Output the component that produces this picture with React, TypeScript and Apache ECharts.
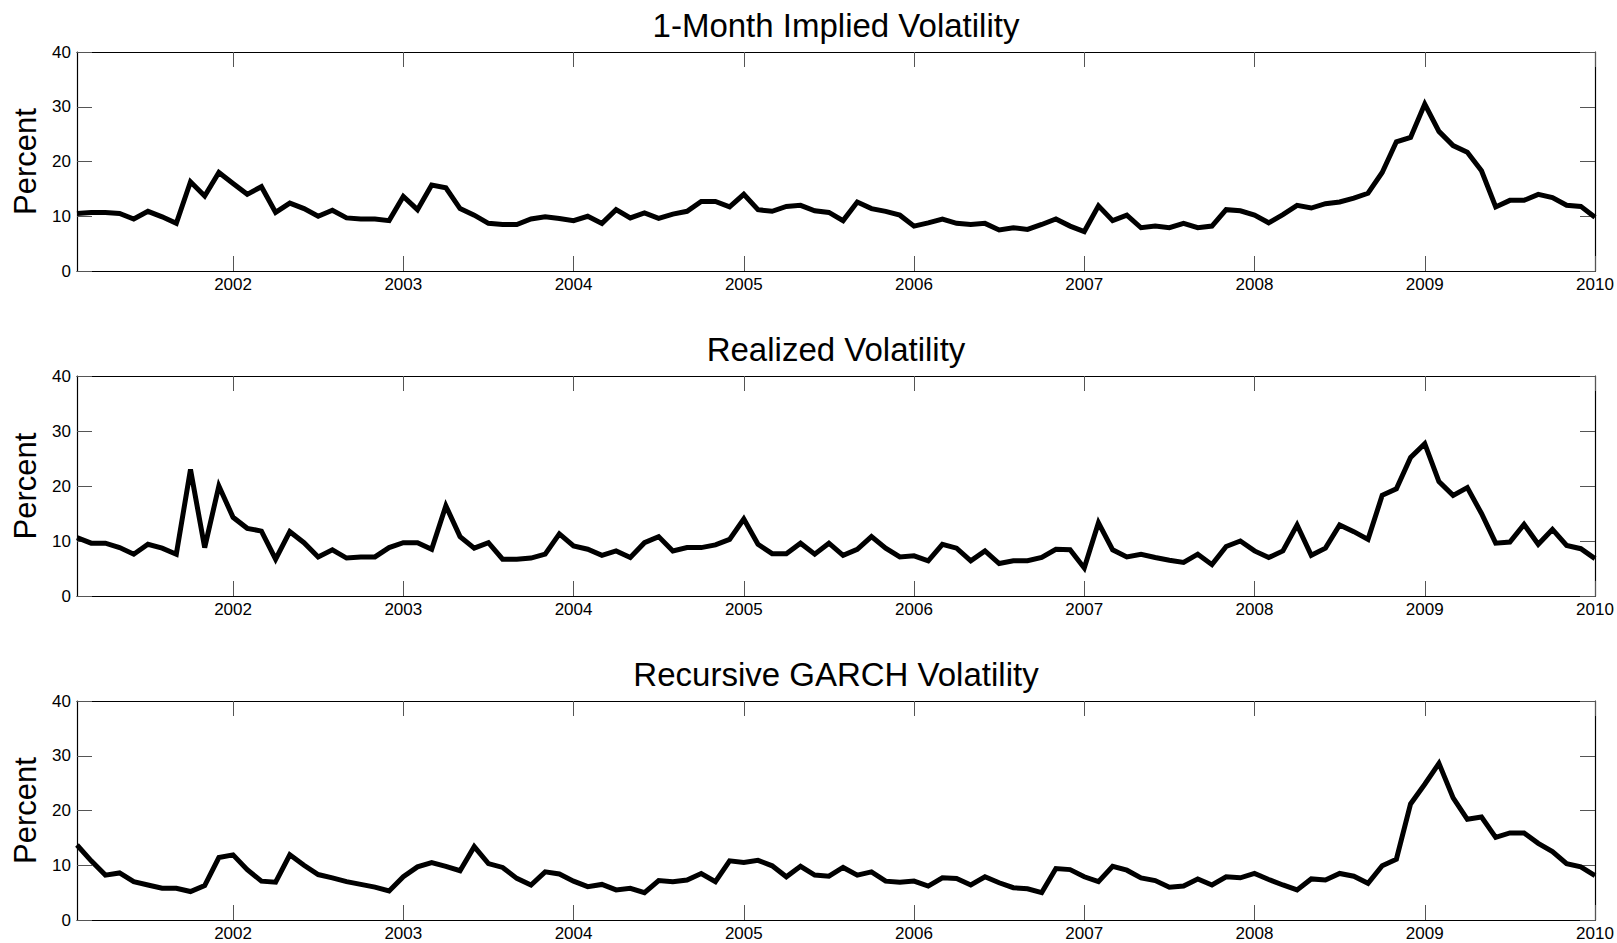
import React, { useEffect, useRef } from "react";
import * as echarts from "echarts";

// Monthly observations, Feb 2001 .. Jan 2010
const START_YEAR = 2001;
const START_MONTH = 2;
const N_MONTHS = 108;

const impliedVol = [
  10.5, 10.7, 10.7, 10.5, 9.5, 10.9, 9.9, 8.7, 16.3, 13.7, 18.0, 16.0,
  14.0, 15.4, 10.7, 12.4, 11.4, 10.0, 11.1, 9.7, 9.5, 9.5, 9.2, 13.6,
  11.2, 15.7, 15.2, 11.4, 10.2, 8.7, 8.5, 8.5, 9.5, 9.9, 9.6, 9.2,
  10.0, 8.7, 11.2, 9.7, 10.6, 9.6, 10.4, 10.9, 12.7, 12.7, 11.7, 14.0,
  11.2, 10.9, 11.8, 12.0, 11.0, 10.7, 9.2, 12.6, 11.4, 10.9, 10.2, 8.2,
  8.8, 9.5, 8.7, 8.5, 8.7, 7.5, 7.9, 7.6, 8.5, 9.5, 8.2, 7.2,
  11.9, 9.2, 10.2, 7.9, 8.2, 7.9, 8.7, 7.9, 8.2, 11.2, 11.0, 10.2,
  8.8, 10.3, 12.0, 11.5, 12.3, 12.6, 13.3, 14.2, 18.0, 23.6, 24.4, 30.5,
  25.5, 22.9, 21.7, 18.3, 11.7, 12.9, 12.9, 14.0, 13.4, 12.0, 11.8, 9.8,
];

const realizedVol = [
  10.6, 9.6, 9.6, 8.8, 7.6, 9.4, 8.7, 7.6, 23.0, 8.8, 20.0, 14.3,
  12.3, 11.8, 6.7, 11.7, 9.7, 7.1, 8.4, 6.9, 7.1, 7.1, 8.8, 9.7,
  9.7, 8.5, 16.4, 10.8, 8.7, 9.7, 6.7, 6.7, 6.9, 7.6, 11.3, 9.1,
  8.5, 7.4, 8.2, 7.0, 9.7, 10.8, 8.2, 8.8, 8.8, 9.3, 10.3, 14.0,
  9.4, 7.7, 7.7, 9.6, 7.6, 9.6, 7.4, 8.5, 10.8, 8.7, 7.1, 7.3,
  6.4, 9.4, 8.7, 6.4, 8.2, 5.9, 6.4, 6.4, 7.0, 8.5, 8.4, 5.1,
  13.3, 8.4, 7.1, 7.6, 7.0, 6.5, 6.1, 7.6, 5.7, 9.0, 10.0, 8.2,
  7.0, 8.2, 12.9, 7.4, 8.7, 12.9, 11.7, 10.3, 18.3, 19.5, 25.2, 27.7,
  20.8, 18.3, 19.7, 15.0, 9.6, 9.8, 13.0, 9.4, 12.1, 9.2, 8.6, 6.8,
];

const garchVol = [
  13.7, 10.8, 8.2, 8.6, 7.0, 6.4, 5.8, 5.8, 5.2, 6.3, 11.4, 11.9,
  9.2, 7.1, 6.9, 11.9, 10.0, 8.3, 7.7, 7.0, 6.5, 6.0, 5.3, 7.9,
  9.7, 10.5, 9.8, 9.0, 13.4, 10.3, 9.6, 7.6, 6.4, 8.8, 8.4, 7.1,
  6.1, 6.5, 5.5, 5.8, 5.0, 7.2, 7.0, 7.3, 8.5, 7.0, 10.8, 10.5,
  10.9, 9.9, 7.9, 9.8, 8.2, 8.0, 9.6, 8.2, 8.8, 7.1, 6.9, 7.1,
  6.2, 7.7, 7.6, 6.4, 7.9, 6.8, 5.9, 5.7, 5.0, 9.4, 9.2, 7.9,
  7.0, 9.8, 9.1, 7.7, 7.2, 6.0, 6.2, 7.5, 6.4, 7.9, 7.7, 8.5,
  7.4, 6.4, 5.5, 7.5, 7.3, 8.5, 8.0, 6.7, 9.9, 11.1, 21.2, 24.8,
  28.6, 22.3, 18.4, 18.8, 15.1, 15.9, 15.9, 14.0, 12.5, 10.3, 9.7, 8.1,
];

const panelTitles = [
  "1-Month Implied Volatility",
  "Realized Volatility",
  "Recursive GARCH Volatility",
];
const panelSeries = [impliedVol, realizedVol, garchVol];
const yAxisName = "Percent";
const yMin = 0;
const yMax = 40;
const yInterval = 10;

const monthLabels: string[] = [];
for (let i = 0; i < N_MONTHS; i++) {
  const m = START_MONTH - 1 + i;
  const y = START_YEAR + Math.floor(m / 12);
  const mo = (m % 12) + 1;
  monthLabels.push(`${y}-${mo < 10 ? "0" + mo : mo}`);
}

const FONT = "'Liberation Sans', Arial, Helvetica, sans-serif";
const isJan = (_i: number, v: string) => v.endsWith("-01");

export default function App() {
  const ref = useRef<HTMLDivElement>(null);
  useEffect(() => {
    document.body.style.margin = "0";
    if (!ref.current) return;
    const chart = echarts.init(ref.current, undefined, { renderer: "svg" });
    const tops = [52, 376, 701];
    const heights = [219, 220, 219];
    const left = 77;
    const right = 22;
    const plotCenter = left + (1617 - left - right) / 2;

    const grids: any[] = [];
    const xAxes: any[] = [];
    const yAxes: any[] = [];
    const series: any[] = [];
    const titles: any[] = [];
    const lineStyle = { color: "#000", width: 1.2 };
    const tickStyle = { color: "#555", width: 1 };

    panelTitles.forEach((t, g) => {
      grids.push({ left, right, top: tops[g], height: heights[g], containLabel: false });
      titles.push({
        text: t,
        left: plotCenter - 5,
        top: tops[g] - 48,
        textAlign: "center",
        textStyle: { fontFamily: FONT, fontSize: 33, fontWeight: "normal", color: "#000" },
      });
      xAxes.push({
        type: "category",
        gridIndex: g,
        data: monthLabels,
        boundaryGap: false,
        position: "bottom",
        axisLine: { onZero: false, lineStyle },
        axisTick: { show: true, inside: true, length: 15, interval: isJan, lineStyle: tickStyle },
        axisLabel: {
          interval: isJan,
          formatter: (v: string) => v.slice(0, 4),
          fontFamily: FONT,
          fontSize: 17,
          color: "#000",
          margin: 5,
        },
        splitLine: { show: false },
      });
      xAxes.push({
        type: "category",
        gridIndex: g,
        data: monthLabels,
        boundaryGap: false,
        position: "top",
        axisLine: { onZero: false, lineStyle },
        axisTick: { show: true, inside: true, length: 15, interval: isJan, lineStyle: tickStyle },
        axisLabel: { show: false },
        splitLine: { show: false },
      });
      yAxes.push({
        type: "value",
        gridIndex: g,
        min: yMin,
        max: yMax,
        interval: yInterval,
        position: "left",
        name: yAxisName,
        nameLocation: "middle",
        nameRotate: 90,
        nameGap: 36,
        nameTextStyle: { fontFamily: FONT, fontSize: 31, color: "#000" },
        axisLine: { show: true, lineStyle },
        axisTick: { show: true, inside: true, length: 15, lineStyle: tickStyle },
        axisLabel: { fontFamily: FONT, fontSize: 17, color: "#000", margin: 6 },
        splitLine: { show: false },
      });
      yAxes.push({
        type: "value",
        gridIndex: g,
        min: yMin,
        max: yMax,
        interval: yInterval,
        position: "right",
        axisLine: { show: true, lineStyle },
        axisTick: { show: true, inside: true, length: 15, lineStyle: tickStyle },
        axisLabel: { show: false },
        splitLine: { show: false },
      });
      series.push({
        type: "line",
        xAxisIndex: g * 2,
        yAxisIndex: g * 2,
        data: panelSeries[g],
        showSymbol: false,
        symbol: "none",
        lineStyle: { color: "#000", width: 5, join: "miter" },
        silent: true,
      });
    });

    chart.setOption({
      animation: false,
      backgroundColor: "#fff",
      title: titles,
      grid: grids,
      xAxis: xAxes,
      yAxis: yAxes,
      series,
    });
    return () => chart.dispose();
  }, []);
  return <div ref={ref} style={{ width: 1617, height: 943 }} />;
}
